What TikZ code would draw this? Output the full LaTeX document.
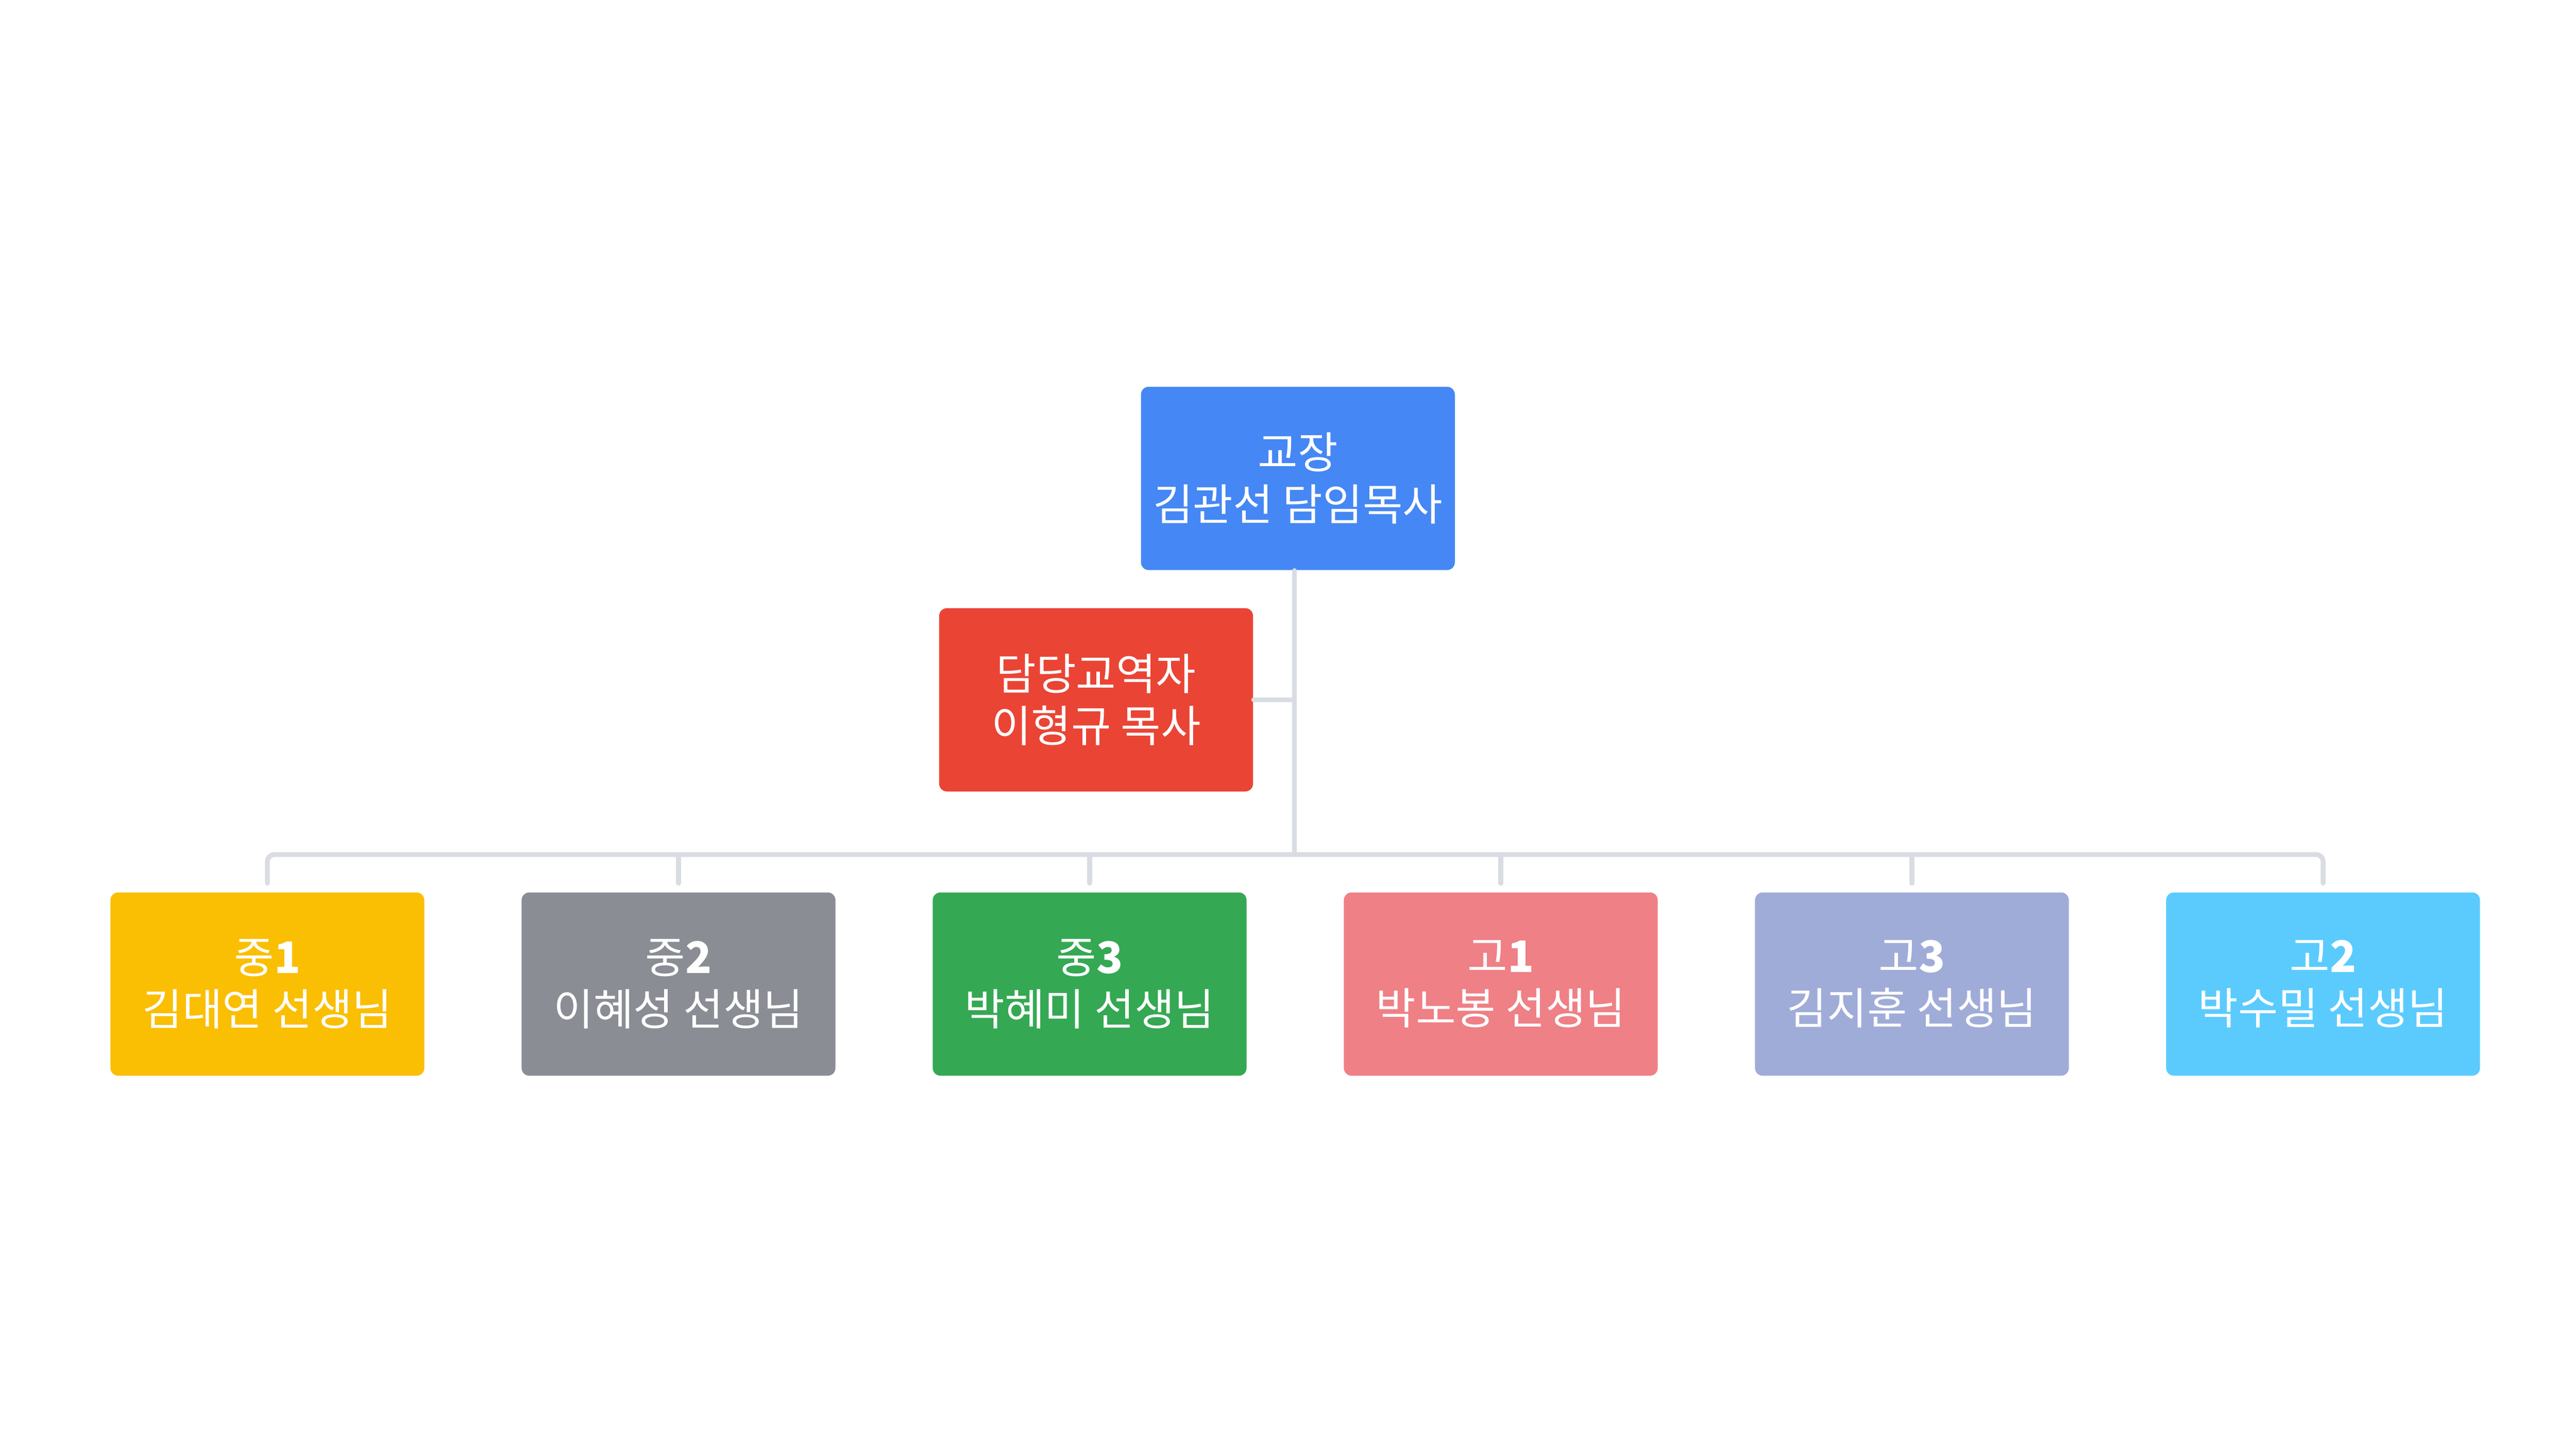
\documentclass[tikz,border=0pt]{standalone}
\usepackage{fontspec}
\setmainfont{Noto Sans CJK KR}
\usetikzlibrary{positioning}

\definecolor{bossblue}{HTML}{4587F4}
\definecolor{asstred}{HTML}{EA4435}
\definecolor{gyellow}{HTML}{FABE03}
\definecolor{ggray}{HTML}{8A8D94}
\definecolor{ggreen}{HTML}{35A853}
\definecolor{gpink}{HTML}{EE8086}
\definecolor{glav}{HTML}{A0ACD8}
\definecolor{gcyan}{HTML}{5BCBFE}
\definecolor{linegray}{HTML}{D9DCE3}

\begin{document}
\begin{tikzpicture}[on grid,
	box/.style={rectangle,rounded corners=0.9mm,minimum width=3.655cm,minimum height=2.135cm,
		inner sep=0pt,text=white,align=center,font=\fontsize{14.4}{17.2}\selectfont},
	conn/.style={draw=linegray,line width=1.6pt,line cap=round}
	]
	\useasboundingbox (0,0) rectangle (30,16.875);
	
	%top of the tree
	\node[box,fill=bossblue] (boss) at (15.115,11.3025) {교장\\김관선 담임목사};
	\node[box,fill=asstred,below left=2.579cm and 2.35cm of boss] (asst) {담당교역자\\이형규 목사};
	
	%grade row, left to right
	\node[box,fill=gyellow] (m1) at (3.114,5.4125) {중\textbf{1}\\김대연 선생님};
	\node[box,fill=ggray,right=4.788cm of m1] (m2) {중\textbf{2}\\이혜성 선생님};
	\node[box,fill=ggreen,right=4.788cm of m2] (m3) {중\textbf{3}\\박혜미 선생님};
	\node[box,fill=gpink,right=4.788cm of m3] (h1) {고\textbf{1}\\박노봉 선생님};
	\node[box,fill=glav,right=4.788cm of h1] (h3) {고\textbf{3}\\김지훈 선생님};
	\node[box,fill=gcyan,right=4.788cm of h3] (h2) {고\textbf{2}\\박수밀 선생님};
	
	%connectors
	\coordinate[below=3.307cm of boss.south,xshift=-0.04cm] (bus);
	\draw[conn] (boss.south -| bus) -- (bus);
	\draw[conn] (asst) -- (asst -| bus);
	\draw[conn,rounded corners=0.8mm,shorten <=0.1cm,shorten >=0.1cm] (m1.north) |- (bus) -| (h2.north);
	\foreach \g in {m2,m3,h1,h3}
		\draw[conn,shorten <=0.1cm] (\g.north) -- (\g.north |- bus);
	
\end{tikzpicture}
\end{document}
